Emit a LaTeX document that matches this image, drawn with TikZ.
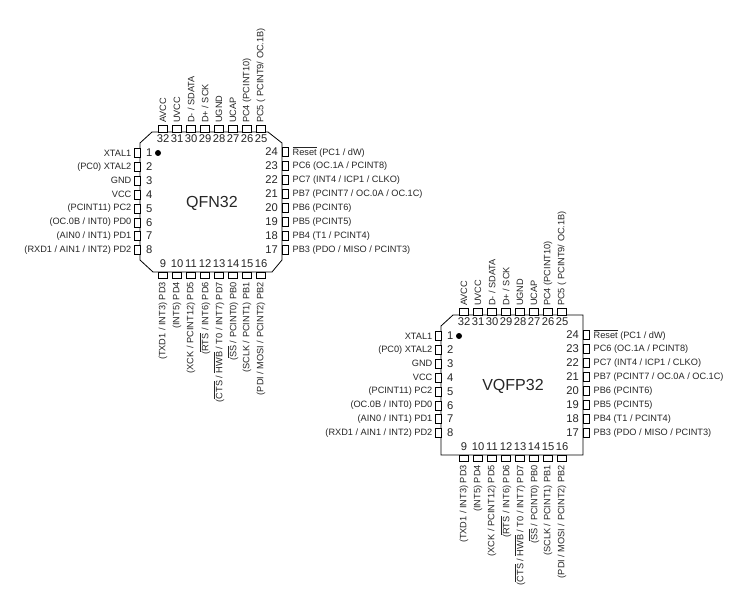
\documentclass[tikz,border=0pt]{standalone}
\usepackage{fontspec}
\setmainfont{Liberation Sans}
\definecolor{ink}{gray}{0.15}
\tikzset{
  body/.style={draw=black,line width=0.8bp},
  pinbox/.style={draw=black,line width=0.6bp,fill=white},
  num/.style={font=\fontsize{11.2bp}{12bp}\selectfont,text=ink,inner sep=0},
  sig/.style={font=\fontsize{9.2bp}{10bp}\selectfont,text=ink,inner sep=0},
  title/.style={font=\fontsize{16bp}{18bp}\selectfont,text=ink,inner sep=0},
}
\newcommand{\ovl}[1]{$\overline{\mbox{#1}}$}
\newcommand{\drawchip}[4]{% id, dx, dy, title
\begin{scope}[shift={(#2,#3)}]
  \ifnum#1=1
    \draw[body] (152,132)--(268,132)--(282,143)--(282,260)--(272,272)--(153,272)--(140,260)--(140,143)--cycle;
  \else
    \draw[body] (152,132)--(282,132)--(282,272)--(140,272)--(140,143)--cycle;
  \fi
  \node[title] (title#1) at (212,203) {#4};
  \fill[black] (158,153) circle (3);
  \foreach \n/\y/\s in {1/153/{XTAL1},2/166.9/{(PC0) XTAL2},3/180.7/{GND},4/194.6/{VCC},5/208.4/{(PCINT11) PC2},6/222.3/{(OC.0B / INT0) PD0},7/236.1/{(AIN0 / INT1) PD1},8/250/{(RXD1 / AIN1 / INT2) PD2}}{
    \draw[pinbox] (134,\y-4.5) rectangle (140,\y+4.5);
    \node[num,anchor=west] (n#1p\n) at (146,\y) {\n};
    \node[sig,anchor=east] (s#1p\n) at (131.5,\y) {\s};
  }
  \foreach \n/\y/\s in {24/152/{\ovl{Reset} (PC1 / dW)},23/166/{PC6 (OC.1A / PCINT8)},22/180/{PC7 (INT4 / ICP1 / CLKO)},21/194/{PB7 (PCINT7 / OC.0A / OC.1C)},20/208/{PB6 (PCINT6)},19/222/{PB5 (PCINT5)},18/236/{PB4 (T1 / PCINT4)},17/250/{PB3 (PDO / MISO / PCINT3)}}{
    \draw[pinbox] (282,\y-4.5) rectangle (288,\y+4.5);
    \node[num,anchor=east] (n#1p\n) at (278,\y) {\n};
    \node[sig,anchor=west] (s#1p\n) at (292.5,\y) {\s};
  }
  \foreach \n/\x/\s in {32/163/{AVCC},31/177/{UVCC},30/191/{D- / SDATA},29/205/{D+ / SCK},28/219/{UGND},27/233/{UCAP},26/247/{PC4 (PCINT10)},25/261/{PC5 ( PCINT9/ OC.1B)}}{
    \draw[pinbox] (\x-4.5,125.5) rectangle (\x+4.5,132);
    \node[num] (n#1p\n) at (\x,138.5) {\n};
    \node[sig,rotate=90,anchor=west] (s#1p\n) at (\x,123) {\s};
  }
  \foreach \n/\x/\s in {9/163/{(TXD1 / INT3) PD3},10/177/{(INT5) PD4},11/191/{(XCK / PCINT12) PD5},12/205/{(\ovl{RTS} / INT6) PD6},13/219/{(\ovl{CTS} / \ovl{HWB} / T0 / INT7) PD7},14/233/{(\ovl{SS} / PCINT0) PB0},15/247/{(SCLK / PCINT1) PB1},16/261/{(PDI / MOSI / PCINT2) PB2}}{
    \draw[pinbox] (\x-4.5,272) rectangle (\x+4.5,278.5);
    \node[num] (n#1p\n) at (\x,264) {\n};
    \node[sig,rotate=90,anchor=east] (s#1p\n) at (\x,282) {\s};
  }
\end{scope}}
\begin{document}
\begin{tikzpicture}[x=1bp,y=-1bp]
\useasboundingbox (0,0) rectangle (738,599);
\drawchip{1}{0}{0}{QFN32}
\drawchip{2}{301}{183}{VQFP32}
\end{tikzpicture}
\end{document}
